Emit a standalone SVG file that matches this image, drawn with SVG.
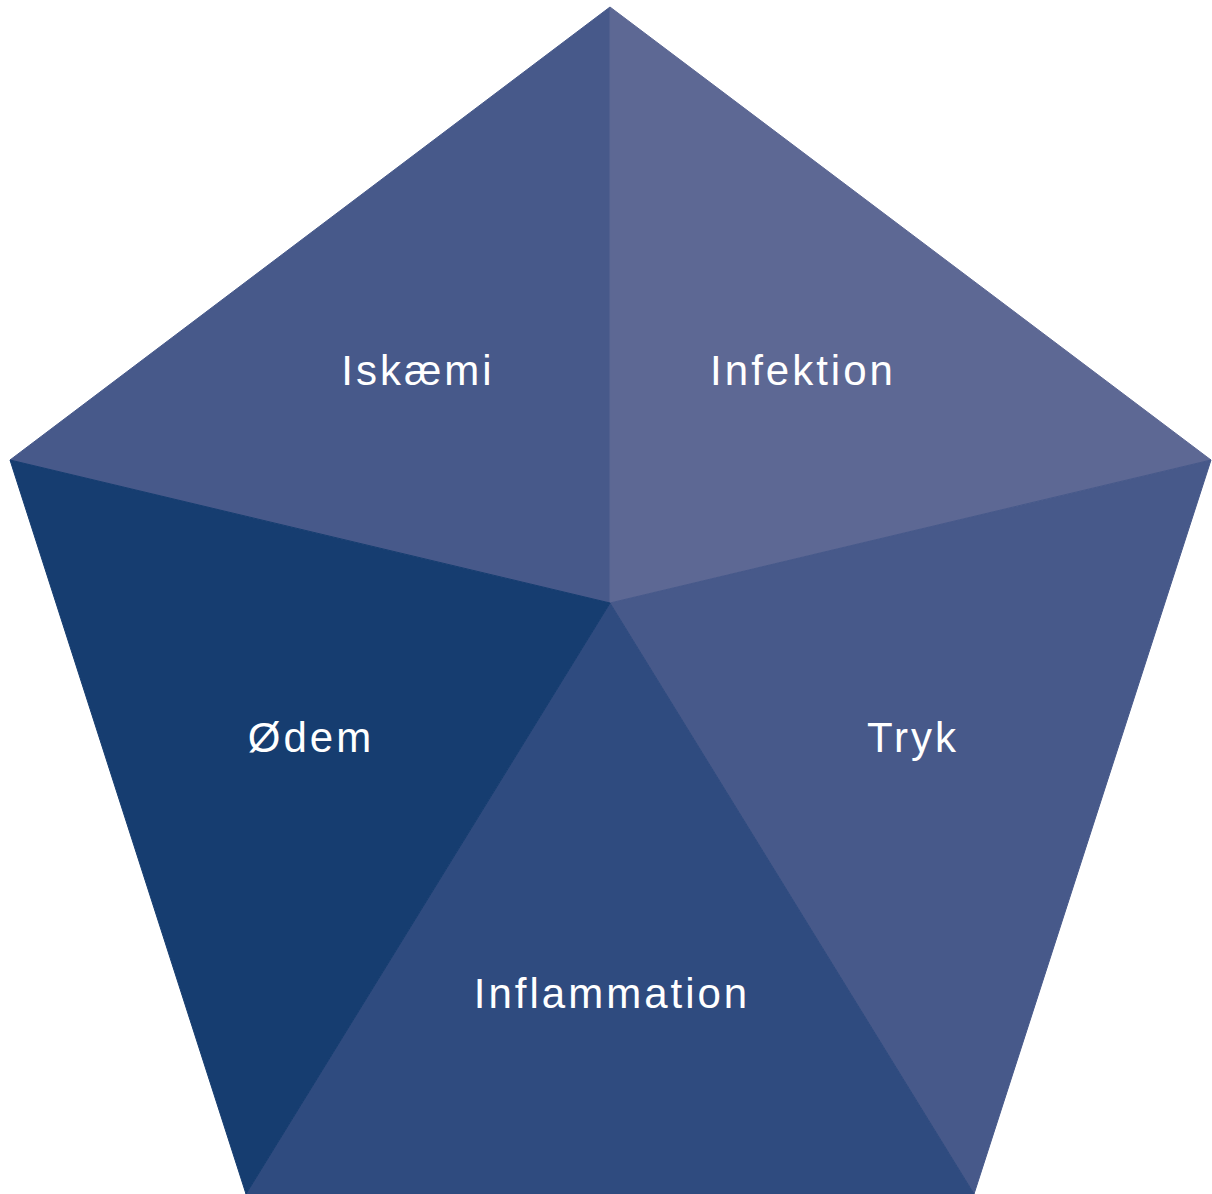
<svg xmlns="http://www.w3.org/2000/svg" width="1212" height="1194" viewBox="0 0 1212 1194">
<style>
.lbl{font-family:"Liberation Sans",Arial,sans-serif;font-size:42px;fill:#ffffff;text-anchor:middle;letter-spacing:3px}
.seg{stroke-width:1}
</style>
<rect width="1212" height="1194" fill="#ffffff"/>
<g id="iskaemi"><polygon class="seg" points="610,7 610,603 10,460" fill="#47598a" stroke="#47598a"/><text class="lbl" x="418" y="385">Iskæmi</text></g>
<g id="infektion"><polygon class="seg" points="610,7 1211,460 610,603" fill="#5d6894" stroke="#5d6894"/><text class="lbl" x="803" y="385">Infektion</text></g>
<g id="tryk"><polygon class="seg" points="1211,460 974,1194 610,603" fill="#47598a" stroke="#47598a"/><text class="lbl" x="913" y="752">Tryk</text></g>
<g id="inflammation"><polygon class="seg" points="610,603 974,1194 246,1194" fill="#2f4b7f" stroke="#2f4b7f"/><text class="lbl" x="612" y="1008">Inflammation</text></g>
<g id="odem"><polygon class="seg" points="10,460 610,603 246,1194" fill="#163d70" stroke="#163d70"/><text class="lbl" x="311" y="752">Ødem</text></g>
<g id="connectors"/>
</svg>
